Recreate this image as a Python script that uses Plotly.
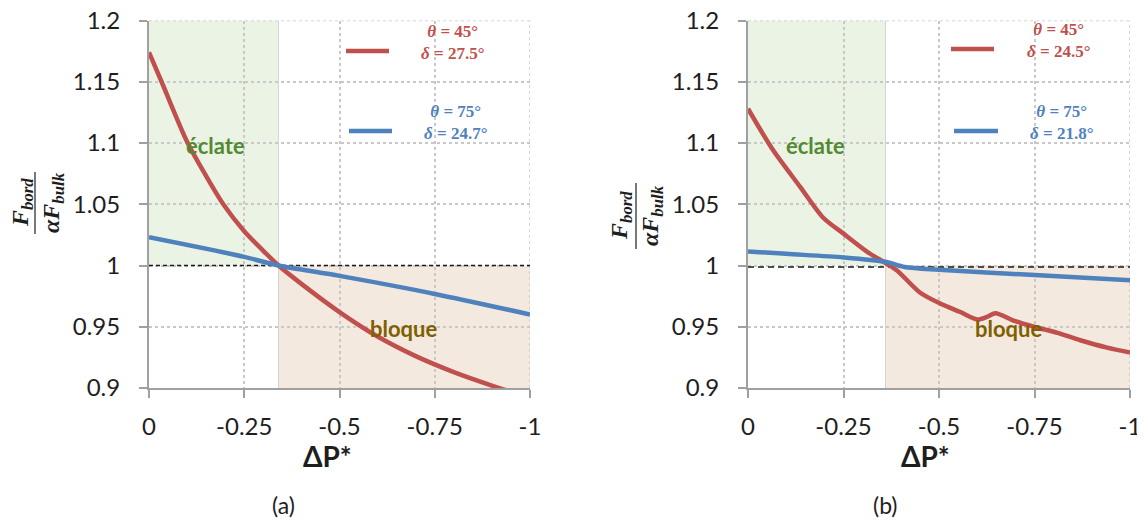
import plotly.graph_objects as go

# ---------------- data ----------------
ticks_x = [0, -0.25, -0.5, -0.75, -1]
ticks_x_text = ["0", "-0.25", "-0.5", "-0.75", "-1"]
ticks_y = [0.9, 0.95, 1.0, 1.05, 1.1, 1.15, 1.2]
ticks_y_text = ["0.9", "0.95", "1", "1.05", "1.1", "1.15", "1.2"]

# panel (a)
a_red_x = [0, -0.033, -0.1, -0.15, -0.195, -0.25, -0.3, -0.34, -0.4, -0.5, -0.6, -0.7, -0.8, -0.9, -1.0]
a_red_y = [1.174, 1.150, 1.101, 1.073, 1.050, 1.028, 1.012, 1.000, 0.985, 0.962, 0.942, 0.926, 0.913, 0.902, 0.892]
a_blue_x = [0, -0.25, -0.34, -0.5, -0.75, -1.0]
a_blue_y = [1.023, 1.007, 1.000, 0.9915, 0.9768, 0.960]

# panel (b)
b_red_x = [0, -0.066, -0.137, -0.197, -0.25, -0.313, -0.36, -0.39, -0.45, -0.503, -0.556, -0.60,
           -0.625, -0.648, -0.695, -0.748, -0.81, -0.87, -0.94, -1.0]
b_red_y = [1.128, 1.094, 1.064, 1.039, 1.026, 1.011, 1.002, 0.996, 0.978, 0.969, 0.962, 0.956,
           0.958, 0.961, 0.955, 0.950, 0.945, 0.939, 0.933, 0.929]
b_blue_x = [0, -0.1, -0.25, -0.36, -0.41, -0.5, -0.75, -1.0]
b_blue_y = [1.0115, 1.0095, 1.0066, 1.003, 0.9988, 0.9965, 0.9922, 0.988]

# regions
boundary_a = -0.34
boundary_b = -0.36
ref_a = 1.0
ref_b = 0.9988
x_min, x_max = 0, -1
y_min, y_max = 0.9, 1.2

legend_a = [("45°", "27.5°"), ("75°", "24.7°")]
legend_b = [("45°", "24.5°"), ("75°", "21.8°")]

RED = "#c0504d"
BLUE = "#4f81bd"
GREEN_FILL = "#ebf3e4"
TAN_FILL = "#f3e9df"
GREEN_TXT = "#528a32"
OLIVE_TXT = "#7f6000"
GRID = "#c8c8c8"

# the page body adds an 8px margin: size the figure so it fits the window
OFF = 8
W, H = 1145 - OFF, 525 - OFF


def fx(x):
    return (x - OFF) / W


def fy(y):
    return 1 - (y - OFF) / H


fig = go.Figure()

for xs, ys, col, xa, ya in [
    (a_red_x, a_red_y, RED, "x", "y"),
    (a_blue_x, a_blue_y, BLUE, "x", "y"),
    (b_red_x, b_red_y, RED, "x2", "y2"),
    (b_blue_x, b_blue_y, BLUE, "x2", "y2"),
]:
    fig.add_trace(go.Scatter(x=xs, y=ys, mode="lines", xaxis=xa, yaxis=ya,
                             line=dict(color=col, width=4.5, shape="spline", smoothing=0.8),
                             hoverinfo="skip", showlegend=False))

axis_common = dict(
    showgrid=True, gridcolor=GRID, griddash="dot", gridwidth=1.5,
    showline=True, linecolor="#a0a0a0", linewidth=2,
    ticks="outside", ticklen=8, tickwidth=2, tickcolor="#a0a0a0",
    zeroline=False, automargin=False, ticklabeloverflow="allow",
    tickfont=dict(family="Lato", size=24, color="#1e1e1e"),
)

ydom = [fy(388), fy(20.5)]
fig.update_layout(
    template="none",
    width=W, height=H, margin=dict(l=0, r=0, t=0, b=0, pad=0, autoexpand=False),
    paper_bgcolor="white", plot_bgcolor="white", showlegend=False,
    xaxis=dict(domain=[fx(149), fx(530)], range=[x_min, x_max], tickvals=ticks_x, ticktext=ticks_x_text,
               anchor="y", ticklabelstandoff=8, **axis_common),
    yaxis=dict(domain=ydom, range=[y_min, y_max], tickvals=ticks_y, ticktext=ticks_y_text,
               anchor="x", ticklabelstandoff=14, **axis_common),
    xaxis2=dict(domain=[fx(748), fx(1130)], range=[x_min, x_max], tickvals=ticks_x, ticktext=ticks_x_text,
                anchor="y2", ticklabelstandoff=8, **axis_common),
    yaxis2=dict(domain=ydom, range=[y_min, y_max], tickvals=ticks_y, ticktext=ticks_y_text,
                anchor="x2", ticklabelstandoff=14, **axis_common),
)

shapes = []
annots = []
for xr, yr, bnd, ref, dash in [("x", "y", boundary_a, ref_a, "4px,3px"),
                               ("x2", "y2", boundary_b, ref_b, "6px,4px")]:
    shapes.append(dict(type="rect", xref=xr, yref=yr, x0=x_min, x1=bnd, y0=ref_a, y1=y_max,
                       fillcolor=GREEN_FILL, line=dict(width=0), layer="below"))
    shapes.append(dict(type="rect", xref=xr, yref=yr, x0=bnd, x1=x_max, y0=y_min, y1=ref_a,
                       fillcolor=TAN_FILL, line=dict(width=0), layer="below"))
    shapes.append(dict(type="line", xref=xr, yref=yr, x0=bnd, x1=bnd, y0=y_min, y1=y_max,
                       line=dict(color="#d4d4d4", width=1), layer="below"))
    # outer gridlines at the top and right edges (plotly drops edge gridlines)
    shapes.append(dict(type="line", xref=xr, yref=yr, x0=x_min, x1=x_max, y0=y_max, y1=y_max,
                       line=dict(color=GRID, width=1.5, dash="dot"), layer="between"))
    shapes.append(dict(type="line", xref=xr, yref=yr, x0=x_max, x1=x_max, y0=y_min, y1=y_max,
                       line=dict(color=GRID, width=1.5, dash="dot"), layer="between"))
    shapes.append(dict(type="line", xref=xr, yref=yr, x0=x_min, x1=x_max, y0=ref, y1=ref,
                       line=dict(color="#1a1a1a", width=1.5, dash=dash), layer="between"))

# legend samples and texts
leg_specs = [
    (legend_a, [(346, 389, 51), (349, 392, 131)], [(452, 43), (455, 123)]),
    (legend_b, [(951, 994, 49), (954, 998, 131)], [(1058, 41), (1061, 123)]),
]
for leg, lines, texts in leg_specs:
    for (th, de), (x0, x1, yl), (tx, ty), col in zip(leg, lines, texts, [RED, BLUE]):
        shapes.append(dict(type="line", xref="paper", yref="paper", x0=fx(x0), x1=fx(x1),
                           y0=fy(yl), y1=fy(yl), line=dict(color=col, width=4.5)))
        annots.append(dict(xref="paper", yref="paper", x=fx(tx), y=fy(ty), showarrow=False,
                           xanchor="center", yanchor="middle", align="center",
                           text=f"<b><i>θ</i> = {th}<br><i>δ</i> = {de}</b>",
                           font=dict(family="Liberation Serif", size=17, color=col)))

# region labels
for x, y, t, c in [(215, 145, "éclate", GREEN_TXT), (403, 328, "bloque", OLIVE_TXT),
                   (815, 145, "éclate", GREEN_TXT), (1008, 328, "bloque", OLIVE_TXT)]:
    annots.append(dict(xref="paper", yref="paper", x=fx(x), y=fy(y), showarrow=False,
                       xanchor="center", yanchor="middle", text=f"<b>{t}</b>",
                       font=dict(family="Lato", size=22, color=c)))

# axis titles
for x, y in [(327, 456), (926, 456)]:
    annots.append(dict(xref="paper", yref="paper", x=fx(x), y=fy(y), showarrow=False,
                       xanchor="center", yanchor="middle", text="<b>ΔP*</b>",
                       font=dict(family="Lato", size=28, color="#1e1e1e")))
for x, y, t in [(283, 505, "(a)"), (885, 505, "(b)")]:
    annots.append(dict(xref="paper", yref="paper", x=fx(x), y=fy(y), showarrow=False,
                       xanchor="center", yanchor="middle", text=t,
                       font=dict(family="Lato", size=23, color="#1e1e1e")))

# y-axis fraction labels
for xn, xb, xd, yc, half in [(22, 35, 53, 203, 31), (621, 636, 652, 216, 33)]:
    annots.append(dict(xref="paper", yref="paper", x=fx(xn), y=fy(yc), showarrow=False,
                       xanchor="center", yanchor="middle", textangle=-90,
                       text="<b><i>F<sub>bord</sub></i></b>",
                       font=dict(family="Liberation Serif", size=24, color="#1e1e1e")))
    annots.append(dict(xref="paper", yref="paper", x=fx(xd), y=fy(yc), showarrow=False,
                       xanchor="center", yanchor="middle", textangle=-90,
                       text="<b><i>αF<sub>bulk</sub></i></b>",
                       font=dict(family="Liberation Serif", size=24, color="#1e1e1e")))
    shapes.append(dict(type="line", xref="paper", yref="paper", x0=fx(xb), x1=fx(xb),
                       y0=fy(yc - half), y1=fy(yc + half), line=dict(color="#1e1e1e", width=1.2)))

fig.update_layout(shapes=shapes, annotations=annots)
fig.write_html("out.html")
